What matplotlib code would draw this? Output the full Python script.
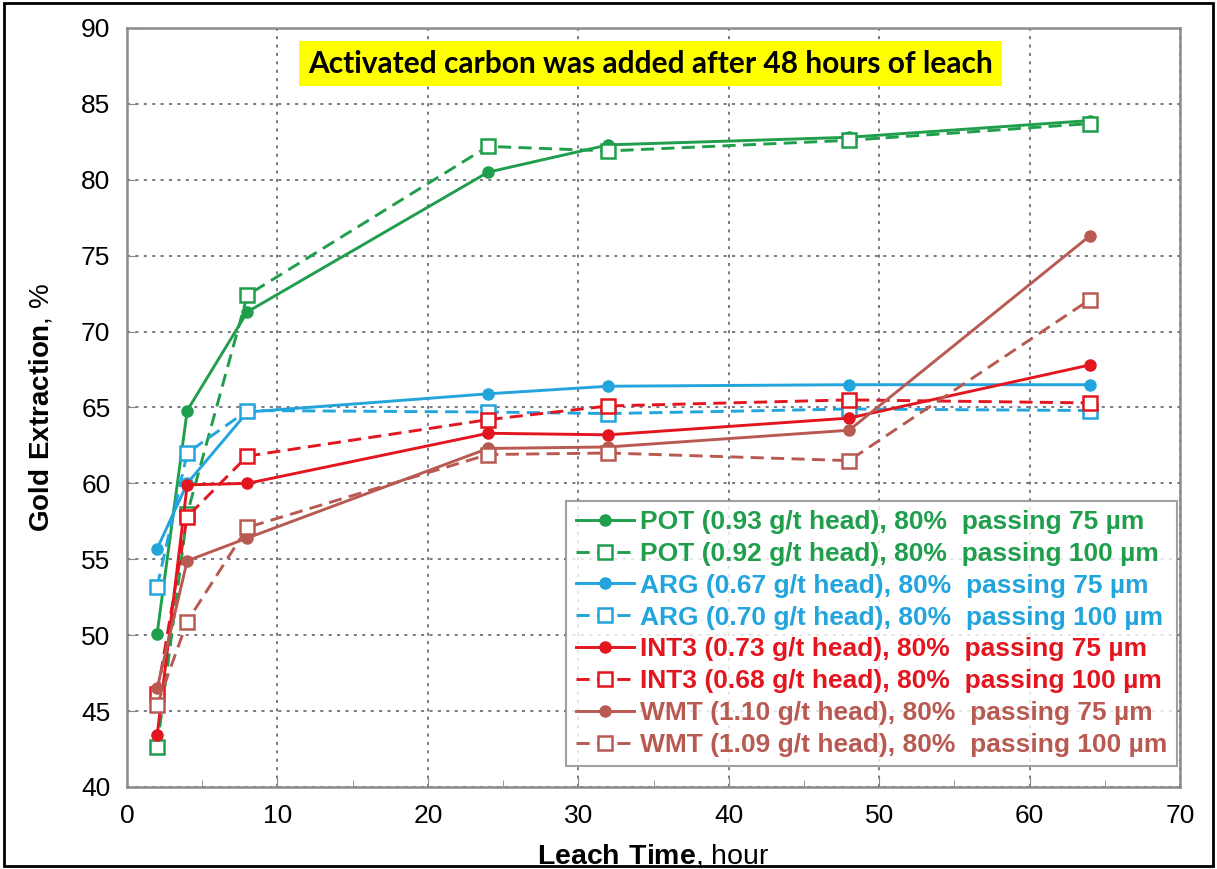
import matplotlib
matplotlib.use('Agg')
import matplotlib.pyplot as plt
from matplotlib.patches import Rectangle
from matplotlib.ticker import MultipleLocator

plt.rcParams['font.family'] = ['Liberation Sans', 'DejaVu Sans']
plt.rcParams['mathtext.fontset'] = 'custom'
plt.rcParams['mathtext.rm'] = 'Liberation Sans'
plt.rcParams['mathtext.bf'] = 'Liberation Sans:bold'

# leach times, hours
hours = [2, 4, 8, 24, 32, 48, 64]

# gold extraction, %
pot_75 = [50.1, 64.8, 71.3, 80.5, 82.3, 82.8, 83.9]
pot_100 = [42.6, 58.0, 72.4, 82.2, 81.9, 82.6, 83.7]
arg_75 = [55.7, 60.0, 64.7, 65.9, 66.4, 66.5, 66.5]
arg_100 = [53.2, 62.0, 64.8, 64.7, 64.6, 64.9, 64.8]
int3_75 = [43.4, 59.9, 60.0, 63.3, 63.2, 64.3, 67.8]
int3_100 = [46.1, 57.8, 61.8, 64.2, 65.1, 65.5, 65.3]
wmt_75 = [46.5, 54.9, 56.4, 62.3, 62.4, 63.5, 76.3]
wmt_100 = [45.4, 50.9, 57.1, 61.9, 62.0, 61.5, 72.1]

labels = [
    'POT (0.93 g/t head), 80%  passing 75 µm',
    'POT (0.92 g/t head), 80%  passing 100 µm',
    'ARG (0.67 g/t head), 80%  passing 75 µm',
    'ARG (0.70 g/t head), 80%  passing 100 µm',
    'INT3 (0.73 g/t head), 80%  passing 75 µm',
    'INT3 (0.68 g/t head), 80%  passing 100 µm',
    'WMT (1.10 g/t head), 80%  passing 75 µm',
    'WMT (1.09 g/t head), 80%  passing 100 µm',
]
note = 'Activated carbon was added after 48 hours of leach'

green = '#1f9e4c'
blue = '#22a5dc'
red = '#e3161f'
brown = '#b85a52'

series = [
    (pot_75, green, '-', 'o'),
    (pot_100, green, '--', 's'),
    (arg_75, blue, '-', 'o'),
    (arg_100, blue, '--', 's'),
    (int3_75, red, '-', 'o'),
    (int3_100, red, '--', 's'),
    (wmt_75, brown, '-', 'o'),
    (wmt_100, brown, '--', 's'),
]

fig = plt.figure(figsize=(12.17, 8.69), dpi=100)
ax = fig.add_axes([0.1044, 0.0944, 0.8652, 0.8734])

for (vals, col, ls, mk), lab in zip(series, labels):
    if mk == 'o':
        ax.plot(hours, vals, color=col, linestyle=ls, lw=2.1, marker='o',
                markersize=8, markerfacecolor=col, markeredgecolor=col, label=lab)
    else:
        ax.plot(hours, vals, color=col, linestyle=ls, lw=2.1, marker='s',
                markersize=10, markerfacecolor='white', markeredgecolor=col,
                markeredgewidth=1.8, dashes=(4.5, 2.5), label=lab)

ax.set_xlim(0, 70)
ax.set_ylim(40, 90)
ax.xaxis.set_major_locator(MultipleLocator(10))
ax.xaxis.set_minor_locator(MultipleLocator(5))
ax.yaxis.set_major_locator(MultipleLocator(5))
ax.tick_params(axis='both', which='both', direction='in', labelsize=19,
               color='#888888', pad=12)
ax.tick_params(which='major', length=7)
ax.tick_params(which='minor', length=5)
ax.grid(True, which='major', color='#555566', linestyle=(0, (2, 3.5)), lw=1.1)
for sp in ax.spines.values():
    sp.set_color('#8a8a8a')
    sp.set_linewidth(1.8)

ax.set_xlabel(r'$\mathbf{Leach\ Time}$, hour', fontsize=20.5, labelpad=11)
ax.set_ylabel(r'$\mathbf{Gold\ Extraction}$, %', fontsize=20, labelpad=19)

ax.text(34.8, 87.66, note, ha='center', va='center', fontsize=21.5,
        fontweight='bold', family=['Lato', 'Liberation Sans'],
        bbox=dict(boxstyle='square,pad=0.3', facecolor='#ffff00', edgecolor='none'))

leg = ax.legend(loc='lower right', bbox_to_anchor=(0.997, 0.027), borderaxespad=0,
                prop={'weight': 'bold', 'size': 19},
                frameon=True, fancybox=False, handlelength=2.2, handletextpad=0.25,
                labelspacing=0.3, borderpad=0.35)
leg.get_frame().set_edgecolor('#8a8a8a')
leg.get_frame().set_linewidth(1.5)
for txt, (vals, col, ls, mk) in zip(leg.get_texts(), series):
    txt.set_color(col)

# outer frame around the picture
fig.patches.append(Rectangle((0.003, 0.004), 0.994, 0.993, transform=fig.transFigure,
                             fill=False, edgecolor='black', lw=2))

fig.savefig('out.png', dpi=100)
